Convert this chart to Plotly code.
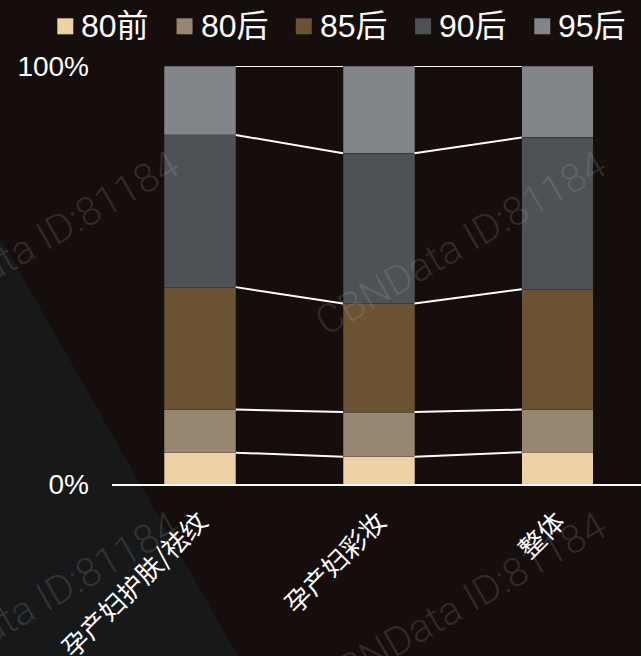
import plotly.graph_objects as go

# ---- data -------------------------------------------------------------
categories = ["孕产妇护肤/祛纹", "孕产妇彩妆", "整体"]
series_names = ["80前", "80后", "85后", "90后", "95后"]
share_80q = [7.5, 6.5, 7.6]
share_80h = [10.3, 10.7, 10.2]
share_85h = [29.3, 26.0, 28.8]
share_90h = [36.4, 35.9, 36.3]
share_95h = [16.5, 20.9, 17.1]
y_tick_vals = [0, 100]
y_tick_text = ["0%", "100%"]
watermark_text = "CBNData ID:81184"

series_values = [share_80q, share_80h, share_85h, share_90h, share_95h]
colors = ["#EED1A4", "#978670", "#6A5233", "#4E5155", "#828589"]

BG = "#150E0D"
W, H = 641, 656
ML, MR, MT, MB = 112, 0, 66, 172
PLOT_W = W - ML - MR
PLOT_H = H - MT - MB
BAR_W = 0.4

LATIN = "Liberation Sans, Arial, Noto Sans CJK SC, sans-serif"
CJK = "Noto Sans CJK SC, Liberation Sans, sans-serif"


def px(x):
    """pixel x -> paper x"""
    return (x - ML) / PLOT_W


def py(y):
    """pixel y -> paper y"""
    return (H - MB - y) / PLOT_H


xpos = list(range(len(categories)))
fig = go.Figure()

# stacked bars
for name, vals, col in zip(series_names, series_values, colors):
    fig.add_trace(go.Bar(
        x=xpos, y=vals, name=name, width=BAR_W,
        marker=dict(color=col, line=dict(color="rgba(40,30,25,0.5)", width=0.6)),
        showlegend=False, hovertext=categories, hoverinfo="text+y+name",
    ))

# connector lines between adjacent bars at every segment top
n = len(categories)
cum = [[0.0] * n]
for vals in series_values:
    cum.append([c + v for c, v in zip(cum[-1], vals)])
for level in cum[1:]:
    for i in range(n - 1):
        fig.add_trace(go.Scatter(
            x=[i + BAR_W / 2, i + 1 - BAR_W / 2],
            y=[level[i], level[i + 1]],
            mode="lines", line=dict(color="white", width=2),
            cliponaxis=False, showlegend=False, hoverinfo="skip",
        ))

shapes = []
annotations = []

# dark wedge in the lower-left background
wedge = [(-10, 225), (0, 237), (263, 700), (-10, 700)]
path = "M " + " L ".join(f"{px(x):.4f},{py(y):.4f}" for x, y in wedge) + " Z"
shapes.append(dict(type="path", path=path, xref="paper", yref="paper",
                   fillcolor="#17181A", line=dict(width=0), layer="below"))

# legend: square swatch + label
for k, (name, col) in enumerate(zip(series_names, colors)):
    x0 = 57.3 + k * 119.25
    shapes.append(dict(type="rect", xref="paper", yref="paper",
                       x0=px(x0), x1=px(x0 + 16), y0=py(34.3), y1=py(18.3),
                       fillcolor=col, line=dict(width=0)))
    annotations.append(dict(text=name, xref="paper", yref="paper",
                            x=px(x0 + 22), y=py(26.5), xanchor="left", yanchor="middle",
                            showarrow=False,
                            font=dict(family=LATIN, size=32, color="white")))

# watermark tiles
for cx, cy in [(460, 243), (33, 243), (460, 604), (33, 604)]:
    annotations.append(dict(text=watermark_text, xref="paper", yref="paper",
                            x=px(cx), y=py(cy), xanchor="center", yanchor="middle",
                            showarrow=False, textangle=-30,
                            font=dict(family="Roboto, Liberation Sans, sans-serif",
                                      size=40, weight=300,
                                      color="rgba(200,200,200,0.16)")))

fig.update_layout(
    width=W, height=H,
    margin=dict(l=ML, r=MR, t=MT, b=MB, pad=0),
    paper_bgcolor=BG, plot_bgcolor="rgba(0,0,0,0)",
    barmode="stack",
    showlegend=False,
    shapes=shapes, annotations=annotations,
    xaxis=dict(
        range=[-0.4923, 2.4671], automargin=False,
        tickvals=xpos, ticktext=categories,
        showgrid=False, zeroline=False,
        showline=True, linecolor="white", linewidth=2,
        ticks="", tickangle=-45, ticklabelstandoff=10,
        tickfont=dict(family=CJK, size=26, color="white"),
    ),
    yaxis=dict(
        range=[0, 100], automargin=False,
        tickvals=y_tick_vals, ticktext=y_tick_text,
        showgrid=False, zeroline=False, showline=False,
        ticks="", ticklabelstandoff=22,
        tickfont=dict(family=LATIN, size=28, color="white"),
    ),
)

fig.write_html("out.html")
